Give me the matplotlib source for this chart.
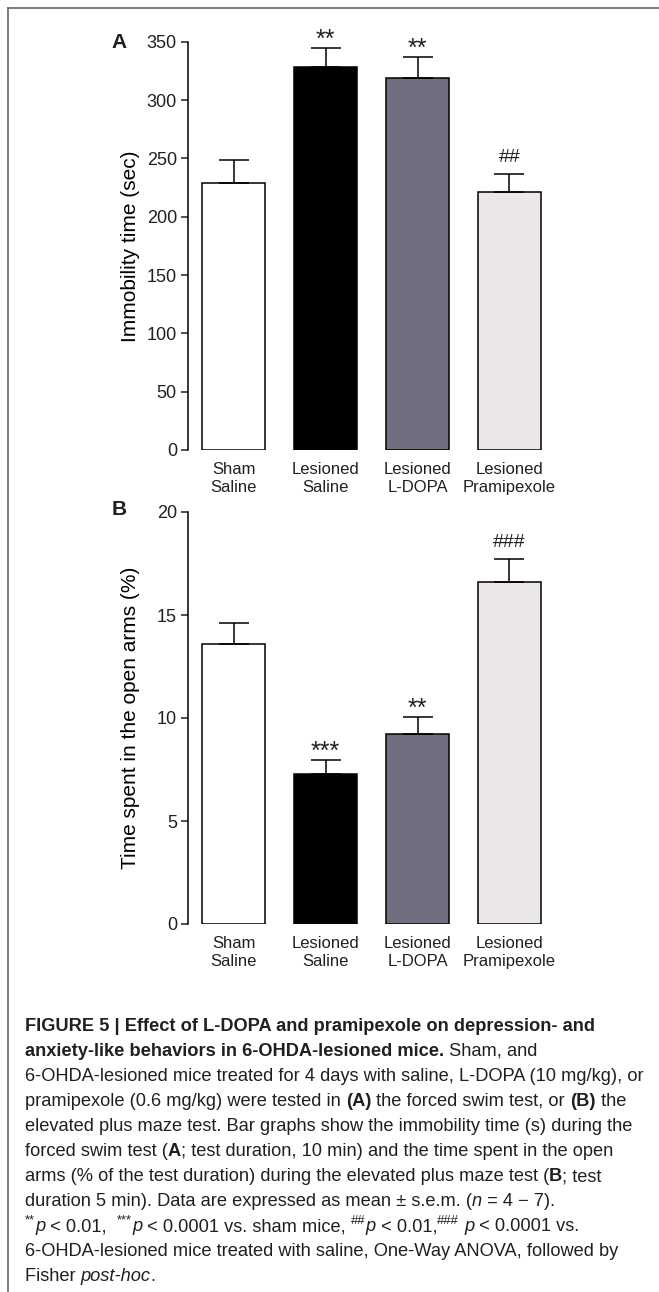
import matplotlib
matplotlib.use("Agg")
import matplotlib.pyplot as plt
from matplotlib import font_manager
from matplotlib.lines import Line2D

plt.rcParams["font.family"] = ["Liberation Sans", "DejaVu Sans"]
plt.rcParams["text.color"] = "#231f20"
plt.rcParams["xtick.color"] = "#231f20"
plt.rcParams["ytick.color"] = "#231f20"

W, H = 659, 1292

groups = ["Sham\nSaline", "Lesioned\nSaline", "Lesioned\nL-DOPA", "Lesioned\nPramipexole"]
bar_colors = ["white", "black", "#706f7f", "#ebe7e7"]

immobility = [229, 328, 319, 221]
immobility_sem = [19.5, 16.5, 17.5, 16]
immobility_marks = ["", "**", "**", "##"]

open_arms = [13.6, 7.3, 9.2, 16.6]
open_arms_sem = [1.0, 0.65, 0.83, 1.14]
open_arms_marks = ["", "***", "**", "###"]


def fx(px):
    return px / W


def fy(py):
    return 1 - py / H


fig = plt.figure(figsize=(W / 100, H / 100), dpi=100)

# thin frame on top and left, as in the journal layout
fig.add_artist(Line2D([fx(8), 1], [fy(8), fy(8)], color="#666666", lw=1.2))
fig.add_artist(Line2D([fx(8), fx(8)], [fy(8), 0], color="#666666", lw=1.2))


def bar_panel(rect, values, sems, marks, ylim, yticks, ylabel, letter, letter_xy):
    ax = fig.add_axes(rect)
    x = list(range(len(values)))
    ax.bar(x, values, width=0.685, color=bar_colors, edgecolor="black", linewidth=1.1,
           yerr=[[0] * len(sems), sems], zorder=2,
           error_kw=dict(ecolor="black", elinewidth=1.1, capsize=11, capthick=1.1))
    for xi, v, s, m in zip(x, values, sems, marks):
        if not m:
            continue
        if "*" in m:
            ax.annotate(m, (xi, v + s), xytext=(0, 0.8), textcoords="offset points",
                        ha="center", va="baseline", fontsize=18)
        else:
            ax.annotate(m, (xi, v + s), xytext=(0, 8), textcoords="offset points",
                        ha="center", va="baseline", fontsize=14)
    ax.set_xlim(-0.495, 3.549)
    ax.set_ylim(*ylim)
    ax.set_yticks(yticks)
    ax.set_xticks(x)
    ax.set_xticklabels(groups, fontsize=12, linespacing=1.2)
    ax.tick_params(axis="x", length=0, pad=9)
    ax.tick_params(axis="y", direction="out", length=5, width=1.1, labelsize=13, pad=3)
    for side in ["top", "right", "bottom"]:
        ax.spines[side].set_visible(False)
    ax.spines["left"].set_linewidth(1.1)
    ax.set_ylabel(ylabel, fontsize=15)
    ax.yaxis.set_label_coords(-0.13, 0.5)
    fig.text(fx(letter_xy[0]), fy(letter_xy[1]), letter, fontsize=15, fontweight="bold",
             ha="left", va="baseline")
    return ax


bar_panel([fx(188), fy(450), fx(372), (450 - 41.7) / H], immobility, immobility_sem,
          immobility_marks, (0, 350), range(0, 351, 50), "Immobility time (sec)", "A", (111, 48))
bar_panel([fx(188), fy(924), fx(372), (924 - 512) / H], open_arms, open_arms_sem,
          open_arms_marks, (0, 20), range(0, 21, 5), "Time spent in the open arms (%)", "B", (112, 515))

# ---- caption ----
try:
    font_manager.findfont("Liberation Sans Narrow", fallback_to_default=False)
    cap_font = ["Liberation Sans Narrow", "DejaVu Sans"]
except ValueError:
    cap_font = ["Liberation Sans", "DejaVu Sans"]

renderer = fig.canvas.get_renderer()


def run_kw(style, size):
    kw = dict(fontsize=size, family=cap_font)
    if style == "b":
        kw["fontweight"] = "bold"
    elif style == "i":
        kw["fontstyle"] = "italic"
    elif style == "s":
        kw["fontsize"] = size * 0.72
    return kw


def text_width(txt, style, size):
    t = fig.text(0, 0, "|" + txt + "|", **run_kw(style, size))
    w1 = t.get_window_extent(renderer).width
    t.set_text("||")
    w0 = t.get_window_extent(renderer).width
    t.remove()
    return w1 - w0


caption = [
    [("FIGURE 5 | Effect of L-DOPA and pramipexole on depression- and", "b")],
    [("anxiety-like behaviors in 6-OHDA-lesioned mice.", "b"), (" Sham, and", "n")],
    [("6-OHDA-lesioned mice treated for 4 days with saline, L-DOPA (10 mg/kg), or", "n")],
    [("pramipexole (0.6 mg/kg) were tested in ", "n"), ("(A)", "b"),
     (" the forced swim test, or ", "n"), ("(B)", "b"), (" the", "n")],
    [("elevated plus maze test. Bar graphs show the immobility time (s) during the", "n")],
    [("forced swim test (", "n"), ("A", "b"), ("; test duration, 10 min) and the time spent in the open", "n")],
    [("arms (% of the test duration) during the elevated plus maze test (", "n"), ("B", "b"), ("; test", "n")],
    [("duration 5 min). Data are expressed as mean \u00b1 s.e.m. (", "n"), ("n", "i"),
     (" = 4 \u2212 7).", "n")],
    [("**", "s"), ("p", "i"), (" < 0.01,  ", "n"), ("***", "s"), ("p", "i"),
     (" < 0.0001 vs. sham mice, ", "n"), ("##", "s"), ("p", "i"), (" < 0.01,", "n"),
     ("###", "s"), (" ", "n"), ("p", "i"), (" < 0.0001 vs.", "n")],
    [("6-OHDA-lesioned mice treated with saline, One-Way ANOVA, followed by", "n")],
    [("Fisher ", "n"), ("post-hoc", "i"), (".", "n")],
]

# fit the longest plain line to the column width
base = 12
ref_w = text_width(caption[2][0][0], "n", base)
cap_size = base * 620 / ref_w

for i, line in enumerate(caption):
    x = 25
    y = 1031 + 25 * i
    for txt, style in line:
        dy = cap_size * 0.4 * 100 / 72 if style == "s" else 0
        fig.text(fx(x), fy(y - dy), txt, ha="left", va="baseline", **run_kw(style, cap_size))
        x += text_width(txt, style, cap_size)

fig.savefig("out.png", dpi=100)
